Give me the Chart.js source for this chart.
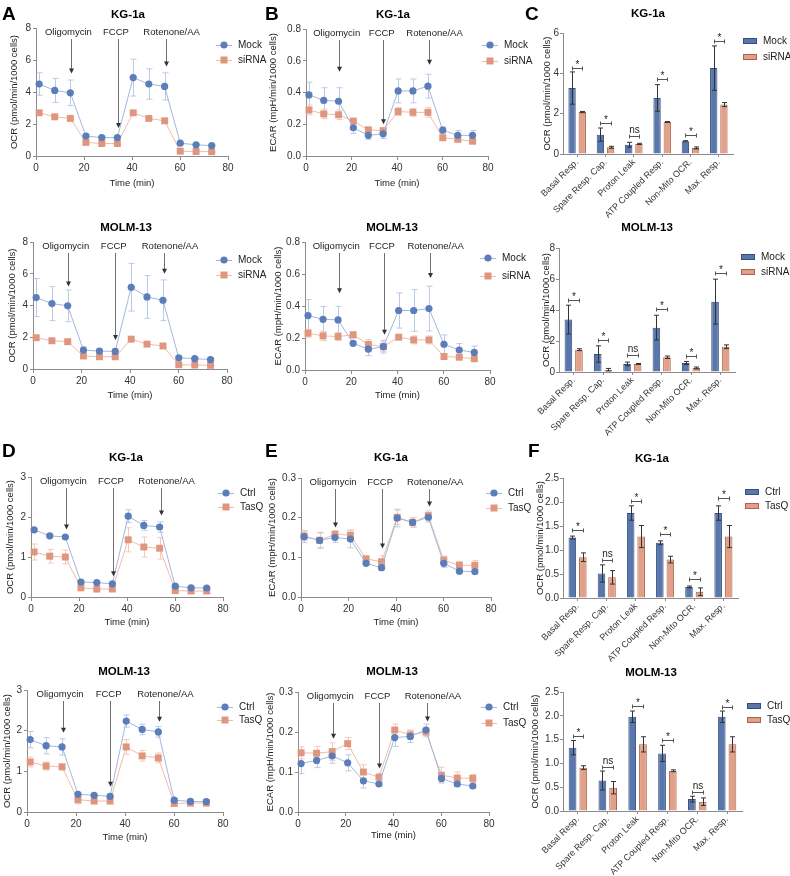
<!DOCTYPE html>
<html>
<head>
<meta charset="utf-8">
<script src="https://cdn.jsdelivr.net/npm/chart.js@4.4.1/dist/chart.umd.min.js"></script>
<style>
  body { margin: 0; background: #fff; }
  #fig { position: relative; width: 790px; height: 876px; overflow: hidden; font-family: "Liberation Sans", Arial, sans-serif; }
  #fig canvas { position: absolute; }
  .letter { position: absolute; font-weight: bold; font-size: 19px; line-height: 1; color: #000; }
  .title { position: absolute; font-weight: bold; font-size: 11.5px; line-height: 1; color: #000; transform: translate(-50%, -50%); white-space: nowrap; }
</style>
</head>
<body>
<div id="fig"></div>
<script>
// ---- shared ----
const time = [1.3, 7.8, 14.3, 20.8, 27.4, 33.9, 40.5, 47.0, 53.6, 60.1, 66.7, 73.2];
const injections = ['Oligomycin', 'FCCP', 'Rotenone/AA'];
const injectionLabelX = [13.5, 33.3, 56.5];
const injectionArrowX = [14.5, 34, 54];
const categories = ['Basal Resp.', 'Spare Resp. Cap.', 'Proton Leak', 'ATP Coupled Resp.', 'Non-Mito OCR.', 'Max. Resp.'];

// ---- A: OCR, Mock vs siRNA ----
const kgOcrMock = [4.5, 4.1, 3.95, 1.25, 1.15, 1.15, 4.9, 4.5, 4.35, 0.8, 0.7, 0.65];
const kgOcrMockErr = [0.7, 0.75, 0.8, 0.1, 0.08, 0.08, 1.15, 0.95, 0.85, 0.08, 0.06, 0.06];
const kgOcrSi = [2.7, 2.45, 2.35, 0.85, 0.78, 0.78, 2.7, 2.35, 2.2, 0.3, 0.28, 0.27];
const kgOcrSiErr = [0.1, 0.08, 0.08, 0.06, 0.05, 0.05, 0.1, 0.08, 0.08, 0.04, 0.04, 0.04];
const kgOcrArrows = [5.15, 1.75, 5.6];

const moOcrMock = [4.5, 4.12, 3.98, 1.19, 1.13, 1.11, 5.15, 4.54, 4.33, 0.71, 0.65, 0.6];
const moOcrMockErr = [1.2, 1.07, 1.0, 0.2, 0.15, 0.15, 1.5, 1.35, 1.28, 0.08, 0.07, 0.07];
const moOcrSi = [1.97, 1.78, 1.72, 0.82, 0.77, 0.77, 1.88, 1.57, 1.45, 0.27, 0.25, 0.23];
const moOcrSiErr = [0.08, 0.06, 0.06, 0.05, 0.05, 0.05, 0.08, 0.06, 0.06, 0.03, 0.03, 0.03];
const moOcrArrows = [5.2, 1.82, 6.0];

// ---- B: ECAR, Mock vs siRNA ----
const kgEcarMock = [0.385, 0.35, 0.345, 0.178, 0.13, 0.14, 0.41, 0.41, 0.44, 0.163, 0.13, 0.13];
const kgEcarMockErr = [0.08, 0.08, 0.085, 0.035, 0.025, 0.03, 0.075, 0.075, 0.075, 0.02, 0.03, 0.03];
const kgEcarSi = [0.29, 0.265, 0.26, 0.22, 0.165, 0.16, 0.28, 0.275, 0.275, 0.115, 0.105, 0.093];
const kgEcarSiErr = [0.03, 0.03, 0.03, 0.015, 0.015, 0.015, 0.025, 0.025, 0.03, 0.015, 0.01, 0.01];
const kgEcarArrows = [0.53, 0.2, 0.575];

const moEcarMock = [0.34, 0.317, 0.313, 0.167, 0.13, 0.146, 0.372, 0.372, 0.384, 0.161, 0.125, 0.11];
const moEcarMockErr = [0.1, 0.08, 0.085, 0.01, 0.04, 0.04, 0.11, 0.13, 0.14, 0.058, 0.04, 0.04];
const moEcarSi = [0.23, 0.213, 0.209, 0.22, 0.16, 0.146, 0.205, 0.188, 0.188, 0.084, 0.08, 0.07];
const moEcarSiErr = [0.025, 0.03, 0.025, 0.02, 0.03, 0.03, 0.01, 0.025, 0.025, 0.015, 0.015, 0.015];
const moEcarArrows = [0.48, 0.22, 0.575];

// ---- C: OCR parameters, Mock vs siRNA ----
const kgParMock = [3.27, 0.96, 0.46, 2.78, 0.63, 4.26];
const kgParMockErr = [0.8, 0.33, 0.12, 0.66, 0.03, 1.1];
const kgParSi = [2.08, 0.33, 0.5, 1.59, 0.3, 2.45];
const kgParSiErr = [0.03, 0.05, 0.03, 0.02, 0.05, 0.1];
const kgParSig = [4.26, 1.54, 0.88, 3.72, 0.93, 5.59];
const kgParMarks = ['*', '*', 'ns', '*', '*', '*'];

const moParMock = [3.38, 1.16, 0.52, 2.86, 0.58, 4.54];
const moParMockErr = [0.93, 0.53, 0.12, 0.8, 0.1, 1.45];
const moParSi = [1.44, 0.15, 0.52, 0.95, 0.26, 1.63];
const moParSiErr = [0.06, 0.08, 0.03, 0.08, 0.06, 0.12];
const moParSig = [4.67, 2.06, 1.07, 4.06, 1.05, 6.39];
const moParMarks = ['*', '*', 'ns', '*', '*', '*'];

// ---- D: OCR, Ctrl vs TasQ ----
const kgOcrCtrl = [1.68, 1.53, 1.5, 0.375, 0.36, 0.33, 2.02, 1.79, 1.75, 0.27, 0.23, 0.225];
const kgOcrCtrlErr = [0.03, 0.03, 0.03, 0.03, 0.03, 0.03, 0.16, 0.12, 0.13, 0.03, 0.03, 0.03];
const kgOcrTasq = [1.125, 1.02, 1.0, 0.23, 0.2, 0.2, 1.43, 1.25, 1.22, 0.16, 0.15, 0.15];
const kgOcrTasqErr = [0.2, 0.17, 0.17, 0.07, 0.07, 0.06, 0.3, 0.25, 0.27, 0.05, 0.06, 0.06];
const kgOcrArrows2 = [1.69, 0.52, 2.04];

const moOcrCtrl = [1.78, 1.63, 1.6, 0.435, 0.41, 0.386, 2.235, 2.03, 1.97, 0.29, 0.26, 0.255];
const moOcrCtrlErr = [0.2, 0.2, 0.2, 0.03, 0.03, 0.03, 0.15, 0.13, 0.13, 0.04, 0.04, 0.04];
const moOcrTasq = [1.23, 1.13, 1.11, 0.3, 0.27, 0.27, 1.6, 1.38, 1.33, 0.21, 0.22, 0.22];
const moOcrTasqErr = [0.12, 0.1, 0.07, 0.1, 0.07, 0.07, 0.18, 0.13, 0.12, 0.07, 0.07, 0.07];
const moOcrArrows2 = [1.95, 0.62, 2.22];

// ---- E: ECAR, Ctrl vs TasQ ----
const kgEcarCtrl = [0.152, 0.143, 0.15, 0.146, 0.085, 0.074, 0.199, 0.188, 0.201, 0.085, 0.065, 0.064];
const kgEcarCtrlErr = [0.015, 0.02, 0.012, 0.022, 0.005, 0.006, 0.022, 0.012, 0.012, 0.01, 0.005, 0.006];
const kgEcarTasq = [0.154, 0.143, 0.158, 0.156, 0.096, 0.089, 0.201, 0.188, 0.205, 0.093, 0.08, 0.08];
const kgEcarTasqErr = [0.012, 0.018, 0.01, 0.013, 0.008, 0.015, 0.018, 0.012, 0.012, 0.01, 0.01, 0.012];
const kgEcarArrows2 = [0.175, 0.1225, 0.228];

const moEcarCtrl = [0.121, 0.129, 0.14, 0.123, 0.078, 0.07, 0.186, 0.189, 0.205, 0.084, 0.07, 0.065];
const moEcarCtrlErr = [0.025, 0.018, 0.018, 0.02, 0.018, 0.005, 0.022, 0.015, 0.015, 0.01, 0.006, 0.005];
const moEcarTasq = [0.148, 0.147, 0.151, 0.171, 0.1, 0.087, 0.205, 0.193, 0.2, 0.092, 0.085, 0.084];
const moEcarTasqErr = [0.015, 0.017, 0.022, 0.015, 0.018, 0.01, 0.015, 0.012, 0.012, 0.02, 0.015, 0.01];
const moEcarArrows2 = [0.183, 0.109, 0.226];

// ---- F: OCR parameters, Ctrl vs TasQ ----
const kgParCtrl = [1.26, 0.51, 1.77, 1.15, 0.23, 1.77];
const kgParCtrlErr = [0.03, 0.18, 0.15, 0.04, 0.02, 0.15];
const kgParTasq = [0.85, 0.43, 1.28, 0.8, 0.13, 1.28];
const kgParTasqErr = [0.09, 0.14, 0.23, 0.07, 0.08, 0.23];
const kgParSig2 = [1.42, 0.8, 2.02, 1.34, 0.4, 2.08];
const kgParMarks2 = ['*', 'ns', '*', '*', '*', '*'];

const moParCtrl = [1.33, 0.64, 1.98, 1.21, 0.25, 1.98];
const moParCtrlErr = [0.15, 0.2, 0.12, 0.17, 0.06, 0.12];
const moParTasq = [0.91, 0.49, 1.4, 0.845, 0.195, 1.4];
const moParTasqErr = [0.04, 0.13, 0.16, 0.02, 0.08, 0.16];
const moParSig2 = [1.58, 0.92, 2.2, 1.5, 0.4, 2.18];
const moParMarks2 = ['*', 'ns', '*', '*', 'ns', '*'];

// ---- styling ----
const FONT = '"Liberation Sans", Arial, Helvetica, sans-serif';
Chart.defaults.font.family = FONT;
Chart.defaults.color = '#333';
const axisGray = '#8c8c8c';
const blue = { mark: '#5b7dba', line: '#a3b7dd', err: '#b9c9e7', fill: '#5a77ad', edge: '#34507f' };
const salmon = { mark: '#e0967e', line: '#efbcab', err: '#f3c9bb', fill: '#e2a088', edge: '#a8644f' };
const OCR_LABEL = 'OCR (pmol/min/1000 cells)';
const ECAR_LABEL = 'ECAR (mpH/min/1000 cells)';

const fig = document.getElementById('fig');

function addCanvas(box) {
  const cv = document.createElement('canvas');
  cv.width = box[2];
  cv.height = box[3];
  cv.style.left = box[0] + 'px';
  cv.style.top = box[1] + 'px';
  fig.appendChild(cv);
  return cv;
}

function geometry(p, xH) {
  const [x0, x1, y0, y1] = p.area;
  const padLeft = p.titleX - p.box[0] - 6.7;
  return {
    padding: {
      left: padLeft,
      right: p.box[0] + p.box[2] - x1,
      top: y0 - p.box[1],
      bottom: Math.max(0, p.box[1] + p.box[3] - y1 - xH)
    },
    yW: x0 - p.box[0] - padLeft
  };
}

function yAxis(p, yW, tickPad) {
  return {
    min: 0, max: p.yMax,
    ticks: { stepSize: p.yStep, color: '#333', font: { size: 10 }, padding: tickPad, callback: v => v.toFixed(p.dec) },
    grid: { drawOnChartArea: false, tickLength: 3, color: axisGray },
    border: { color: axisGray },
    title: { display: true, text: p.yLabel, color: '#222', font: { size: 9.5 }, padding: { top: 1, bottom: 0 } },
    afterFit: s => { s.width = yW; }
  };
}

function drawErrors(chart, capHalf, dark) {
  const ctx = chart.ctx;
  const ys = chart.scales.y;
  ctx.save();
  ctx.lineWidth = 1;
  chart.data.datasets.forEach((ds, d) => {
    const meta = chart.getDatasetMeta(d);
    ctx.strokeStyle = dark ? '#333' : ds.errColor;
    meta.data.forEach((el, i) => {
      const v = ds.values[i], e = ds.errors[i];
      const x = Math.round(el.x) + 0.5;
      const yt = ys.getPixelForValue(v + e), yb = ys.getPixelForValue(v - e);
      ctx.beginPath();
      ctx.moveTo(x, yt); ctx.lineTo(x, yb);
      ctx.moveTo(x - capHalf, yt); ctx.lineTo(x + capHalf, yt);
      ctx.moveTo(x - capHalf, yb); ctx.lineTo(x + capHalf, yb);
      ctx.stroke();
    });
  });
  ctx.restore();
}

function drawLegend(ctx, p, series, kind) {
  ctx.save();
  ctx.font = '10px ' + FONT;
  ctx.textBaseline = 'middle';
  ctx.textAlign = 'left';
  series.forEach((s, k) => {
    const cx = p.legend[0] - p.box[0];
    const cy = p.legend[1 + k] - p.box[1];
    if (kind === 'line') {
      ctx.strokeStyle = s.color.line;
      ctx.lineWidth = 1;
      ctx.beginPath(); ctx.moveTo(cx - 8, cy + 0.5); ctx.lineTo(cx + 8, cy + 0.5); ctx.stroke();
      ctx.fillStyle = s.color.mark;
      ctx.beginPath();
      if (s.square) ctx.rect(cx - 3.5, cy - 3.5, 7, 7);
      else ctx.arc(cx, cy, 3.6, 0, Math.PI * 2);
      ctx.fill();
      ctx.fillStyle = '#222';
      ctx.fillText(s.label, cx + 14, cy);
    } else {
      ctx.fillStyle = s.color.fill;
      ctx.strokeStyle = s.color.edge;
      ctx.lineWidth = 1;
      ctx.fillRect(cx - 7, cy - 3, 14, 6);
      ctx.strokeRect(cx - 7 + 0.5, cy - 3 + 0.5, 13, 5);
      ctx.fillStyle = '#222';
      ctx.fillText(s.label, cx + 13, cy);
    }
  });
  ctx.restore();
}

function lineChart(p) {
  const cv = addCanvas(p.box);
  const xH = p.xTitleY - p.area[3] + 5.7;
  const g = geometry(p, xH);
  const overlay = {
    id: 'overlay',
    beforeDatasetsDraw(chart) { drawErrors(chart, 3, false); },
    afterDatasetsDraw(chart) {
      const ctx = chart.ctx, xs = chart.scales.x, ys = chart.scales.y;
      const top = chart.chartArea.top;
      ctx.save();
      ctx.font = '9.5px ' + FONT;
      ctx.textAlign = 'center';
      ctx.textBaseline = 'middle';
      injections.forEach((name, k) => {
        ctx.fillStyle = '#222';
        ctx.fillText(name, xs.getPixelForValue(injectionLabelX[k]), top + 4);
        const ax = Math.round(xs.getPixelForValue(injectionArrowX[k])) + 0.5;
        const yEnd = ys.getPixelForValue(p.arrows[k]);
        ctx.strokeStyle = '#707070';
        ctx.lineWidth = 1;
        ctx.beginPath(); ctx.moveTo(ax, top + 11); ctx.lineTo(ax, yEnd - 4); ctx.stroke();
        ctx.fillStyle = '#333';
        ctx.beginPath();
        ctx.moveTo(ax - 2.5, yEnd - 5); ctx.lineTo(ax + 2.5, yEnd - 5); ctx.lineTo(ax, yEnd);
        ctx.closePath(); ctx.fill();
      });
      ctx.restore();
      drawLegend(ctx, p, p.series, 'line');
    }
  };
  new Chart(cv, {
    type: 'line',
    data: {
      datasets: p.series.map(s => ({
        label: s.label,
        values: s.values,
        errors: s.errors,
        errColor: s.color.err,
        data: time.map((t, i) => ({ x: t, y: s.values[i] })),
        borderColor: s.color.line,
        borderWidth: 1,
        pointStyle: s.square ? 'rect' : 'circle',
        pointRadius: s.square ? 4.9 : 3.6,
        pointBackgroundColor: s.color.mark,
        pointBorderColor: s.color.mark,
        pointBorderWidth: 0,
        tension: 0,
        clip: false
      }))
    },
    options: {
      responsive: false,
      animation: false,
      devicePixelRatio: 1,
      events: [],
      layout: { padding: g.padding },
      plugins: { legend: { display: false }, tooltip: { enabled: false } },
      scales: {
        x: {
          type: 'linear', min: 0, max: 80,
          ticks: { stepSize: 20, color: '#333', font: { size: 10 }, padding: 2 },
          grid: { drawOnChartArea: false, tickLength: 4, color: axisGray },
          border: { color: axisGray },
          title: { display: true, text: 'Time (min)', color: '#222', font: { size: 9.5 }, padding: 0 },
          afterFit: s => { s.height = xH; }
        },
        y: yAxis(p, g.yW, 2)
      }
    },
    plugins: [overlay]
  });
}

function barChart(p) {
  const cv = addCanvas(p.box);
  const xH = 78;
  const g = geometry(p, xH);
  const overlay = {
    id: 'overlay',
    afterDatasetsDraw(chart) {
      drawErrors(chart, 2.5, true);
      const ctx = chart.ctx, ys = chart.scales.y;
      const m0 = chart.getDatasetMeta(0), m1 = chart.getDatasetMeta(1);
      ctx.save();
      ctx.strokeStyle = '#555';
      ctx.lineWidth = 1;
      ctx.fillStyle = '#222';
      ctx.textAlign = 'center';
      ctx.textBaseline = 'bottom';
      ctx.font = '10px ' + FONT;
      p.sig.forEach((lvl, i) => {
        const a = Math.round(m0.data[i].x) + 0.5, b = Math.round(m1.data[i].x) + 0.5;
        const y = Math.round(ys.getPixelForValue(lvl)) + 0.5;
        ctx.beginPath();
        ctx.moveTo(a, y); ctx.lineTo(b, y);
        ctx.moveTo(a, y - 2); ctx.lineTo(a, y + 2);
        ctx.moveTo(b, y - 2); ctx.lineTo(b, y + 2);
        ctx.stroke();
        const mark = p.marks[i];
        ctx.fillText(mark, (a + b) / 2, mark === '*' ? y + 2 : y - 1);
      });
      ctx.restore();
      drawLegend(ctx, p, p.series, 'bar');
    }
  };
  new Chart(cv, {
    type: 'bar',
    data: {
      labels: categories,
      datasets: p.series.map(s => ({
        label: s.label,
        values: s.values,
        errors: s.errors,
        data: s.values,
        backgroundColor: s.color.fill,
        borderColor: s.color.edge,
        borderWidth: 1,
        barPercentage: 0.72,
        categoryPercentage: 0.72
      }))
    },
    options: {
      responsive: false,
      animation: false,
      devicePixelRatio: 1,
      events: [],
      layout: { padding: g.padding },
      plugins: { legend: { display: false }, tooltip: { enabled: false } },
      scales: {
        x: {
          ticks: { color: '#333', font: { size: 9 }, padding: 0, autoSkip: false, maxRotation: 45, minRotation: 45 },
          grid: { drawOnChartArea: false, tickLength: 3, color: axisGray, offset: false },
          border: { color: axisGray },
          afterFit: s => { s.height = xH; }
        },
        y: yAxis(p, g.yW, 1)
      }
    },
    plugins: [overlay]
  });
}

const mock = (v, e) => ({ label: 'Mock', values: v, errors: e, color: blue, square: false });
const sirna = (v, e) => ({ label: 'siRNA', values: v, errors: e, color: salmon, square: true });
const ctrl = (v, e) => ({ label: 'Ctrl', values: v, errors: e, color: blue, square: false });
const tasq = (v, e) => ({ label: 'TasQ', values: v, errors: e, color: salmon, square: true });

// row 1
lineChart({ box: [0, 0, 275, 200], area: [36, 228, 28, 156], titleX: 14, xTitleY: 183, yMax: 8, yStep: 2, dec: 0, yLabel: OCR_LABEL,
  arrows: kgOcrArrows, legend: [224, 45, 60], series: [mock(kgOcrMock, kgOcrMockErr), sirna(kgOcrSi, kgOcrSiErr)] });
lineChart({ box: [262, 0, 275, 200], area: [306, 488, 29, 156], titleX: 273, xTitleY: 183, yMax: 0.8, yStep: 0.2, dec: 1, yLabel: ECAR_LABEL,
  arrows: kgEcarArrows, legend: [490, 45, 61], series: [mock(kgEcarMock, kgEcarMockErr), sirna(kgEcarSi, kgEcarSiErr)] });
barChart({ box: [527, 0, 263, 236], area: [563, 733, 33, 154], titleX: 547, yMax: 6, yStep: 2, dec: 0, yLabel: OCR_LABEL,
  sig: kgParSig, marks: kgParMarks, legend: [750, 41, 57], series: [mock(kgParMock, kgParMockErr), sirna(kgParSi, kgParSiErr)] });

// row 2
lineChart({ box: [0, 205, 275, 200], area: [33, 227, 242, 369], titleX: 12, xTitleY: 395, yMax: 8, yStep: 2, dec: 0, yLabel: OCR_LABEL,
  arrows: moOcrArrows, legend: [224, 260, 275], series: [mock(moOcrMock, moOcrMockErr), sirna(moOcrSi, moOcrSiErr)] });
lineChart({ box: [262, 205, 275, 200], area: [305, 490, 242, 370], titleX: 278, xTitleY: 395, yMax: 0.8, yStep: 0.2, dec: 1, yLabel: ECAR_LABEL,
  arrows: moEcarArrows, legend: [488, 258, 276], series: [mock(moEcarMock, moEcarMockErr), sirna(moEcarSi, moEcarSiErr)] });
barChart({ box: [527, 205, 263, 250], area: [559, 735, 248, 372], titleX: 546, yMax: 8, yStep: 2, dec: 0, yLabel: OCR_LABEL,
  sig: moParSig, marks: moParMarks, legend: [748, 257, 272], series: [mock(moParMock, moParMockErr), sirna(moParSi, moParSiErr)] });

// row 3
lineChart({ box: [0, 430, 275, 210], area: [31, 223, 477, 597], titleX: 10, xTitleY: 622, yMax: 3, yStep: 1, dec: 0, yLabel: OCR_LABEL,
  arrows: kgOcrArrows2, legend: [226, 493, 507], series: [ctrl(kgOcrCtrl, kgOcrCtrlErr), tasq(kgOcrTasq, kgOcrTasqErr)] });
lineChart({ box: [262, 430, 275, 210], area: [301, 491, 478, 597], titleX: 272, xTitleY: 622, yMax: 0.3, yStep: 0.1, dec: 1, yLabel: ECAR_LABEL,
  arrows: kgEcarArrows2, legend: [494, 493, 508], series: [ctrl(kgEcarCtrl, kgEcarCtrlErr), tasq(kgEcarTasq, kgEcarTasqErr)] });
barChart({ box: [527, 430, 263, 250], area: [563, 738, 478, 598], titleX: 540, yMax: 2.5, yStep: 0.5, dec: 1, yLabel: OCR_LABEL,
  sig: kgParSig2, marks: kgParMarks2, legend: [752, 492, 506], series: [ctrl(kgParCtrl, kgParCtrlErr), tasq(kgParTasq, kgParTasqErr)] });

// row 4
lineChart({ box: [0, 645, 275, 210], area: [27, 223, 690, 812], titleX: 7, xTitleY: 837, yMax: 3, yStep: 1, dec: 0, yLabel: OCR_LABEL,
  arrows: moOcrArrows2, legend: [225, 707, 720], series: [ctrl(moOcrCtrl, moOcrCtrlErr), tasq(moOcrTasq, moOcrTasqErr)] });
lineChart({ box: [262, 645, 275, 210], area: [298, 489, 692, 812], titleX: 270, xTitleY: 835, yMax: 0.3, yStep: 0.1, dec: 1, yLabel: ECAR_LABEL,
  arrows: moEcarArrows2, legend: [489, 707, 723], series: [ctrl(moEcarCtrl, moEcarCtrlErr), tasq(moEcarTasq, moEcarTasqErr)] });
barChart({ box: [527, 645, 263, 244], area: [563, 742, 692, 811], titleX: 535, yMax: 2.5, yStep: 0.5, dec: 1, yLabel: OCR_LABEL,
  sig: moParSig2, marks: moParMarks2, legend: [754, 706, 720], series: [ctrl(moParCtrl, moParCtrlErr), tasq(moParTasq, moParTasqErr)] });

// panel letters and titles
[['A', 2, 4], ['B', 265, 4], ['C', 525, 4], ['D', 2, 441], ['E', 265, 441], ['F', 528, 441]].forEach(([t, x, y]) => {
  const d = document.createElement('div');
  d.className = 'letter'; d.textContent = t;
  d.style.left = x + 'px'; d.style.top = y + 'px';
  fig.appendChild(d);
});
[['KG-1a', 128, 15], ['KG-1a', 393, 15], ['KG-1a', 648, 14],
 ['MOLM-13', 126, 228], ['MOLM-13', 392, 228], ['MOLM-13', 647, 228],
 ['KG-1a', 126, 458], ['KG-1a', 391, 458], ['KG-1a', 652, 459],
 ['MOLM-13', 124, 672], ['MOLM-13', 392, 672], ['MOLM-13', 651, 673]].forEach(([t, x, y]) => {
  const d = document.createElement('div');
  d.className = 'title'; d.textContent = t;
  d.style.left = x + 'px'; d.style.top = y + 'px';
  fig.appendChild(d);
});
</script>
</body>
</html>
